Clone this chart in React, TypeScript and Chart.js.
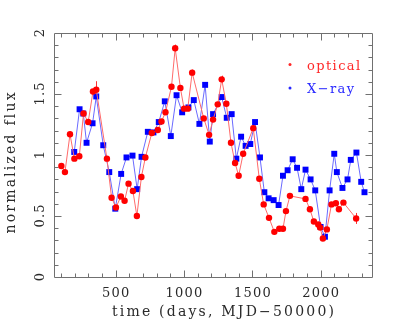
import React, { useEffect, useRef } from "react";
import { Chart, registerables } from "chart.js";
Chart.register(...registerables);

const optDays = [104, 130, 167, 199, 235, 266, 300, 335, 359, 437, 471, 503, 539, 566, 595, 627, 656, 689, 718, 765, 809, 836, 865, 909, 936, 974, 1001, 1028, 1060, 1145, 1184, 1213, 1247, 1276, 1310, 1344, 1374, 1400, 1433, 1507, 1551, 1583, 1622, 1661, 1697, 1724, 1746, 1775, 1889, 1921, 1950, 1982, 1996, 2016, 2045, 2079, 2111, 2133, 2166, 2259];
const optFlux = [0.91, 0.86, 1.17, 0.97, 0.99, 1.34, 1.27, 1.52, 1.535, 0.97, 0.65, 0.57, 0.66, 0.625, 0.765, 0.705, 0.5, 0.82, 0.98, 1.18, 1.205, 1.275, 1.35, 1.56, 1.875, 1.55, 1.38, 1.38, 1.675, 1.3, 1.165, 1.29, 1.415, 1.62, 1.42, 1.1, 0.935, 0.83, 1.01, 1.22, 0.805, 0.595, 0.485, 0.37, 0.395, 0.395, 0.54, 0.665, 0.64, 0.555, 0.455, 0.43, 0.405, 0.315, 0.39, 0.595, 0.605, 0.555, 0.61, 0.48];
const optErr = [0.02, 0.02, 0.02, 0.02, 0.02, 0.02, 0.02, 0.02, 0.07, 0.02, 0.02, 0.02, 0.02, 0.02, 0.02, 0.02, 0.02, 0.02, 0.02, 0.02, 0.02, 0.02, 0.02, 0.02, 0.03, 0.02, 0.02, 0.02, 0.025, 0.02, 0.02, 0.02, 0.02, 0.03, 0.02, 0.02, 0.02, 0.02, 0.02, 0.02, 0.02, 0.02, 0.02, 0.02, 0.02, 0.02, 0.02, 0.02, 0.02, 0.02, 0.02, 0.02, 0.02, 0.02, 0.02, 0.02, 0.02, 0.02, 0.02, 0.045];
const xrayDays = [198, 237, 264, 288, 332, 359, 410, 454, 498, 541, 580, 624, 658, 690, 736, 777, 816, 860, 904, 946, 987, 1033, 1072, 1113, 1155, 1189, 1213, 1276, 1313, 1349, 1383, 1418, 1451, 1485, 1520, 1556, 1588, 1619, 1656, 1692, 1724, 1758, 1795, 1827, 1858, 1889, 1926, 1960, 1999, 2031, 2065, 2099, 2118, 2159, 2196, 2220, 2261, 2296, 2320];
const xrayFlux = [1.025, 1.375, 1.34, 1.1, 1.26, 1.48, 1.08, 0.86, 0.56, 0.845, 0.98, 0.995, 0.72, 0.985, 1.19, 1.185, 1.27, 1.44, 1.155, 1.49, 1.35, 1.39, 1.45, 1.255, 1.575, 1.11, 1.335, 1.475, 1.305, 1.335, 0.97, 1.15, 1.075, 1.09, 1.27, 0.98, 0.695, 0.645, 0.63, 0.59, 0.83, 0.875, 0.965, 0.895, 0.72, 0.88, 0.8, 0.71, 0.41, 0.33, 0.71, 1.01, 0.86, 0.73, 0.8, 0.96, 1.02, 0.78, 0.695];
const xTickLabels = [500, 1000, 1500, 2000];
const yTickLabels = [0, 0.5, 1, 1.5, 2];
const seriesNames = ["optical", "X\u2212ray"];
const xTitle = "time (days, MJD\u221250000)";
const yTitle = "normalized flux";

const FONT = "DejaVu Serif";
const TEXT = "#2a2a2a";
const FRAME = "#707070";

function spacedText(ctx: any, text: string, x: number, y: number, spacing: number) {
  ctx.letterSpacing = `${spacing}px`;
  const w = ctx.measureText(text).width;
  ctx.textAlign = "left";
  ctx.fillText(text, x - (w - spacing) / 2, y);
  ctx.letterSpacing = "0px";
}

const framePlugin = {
  id: "frameTicks",
  beforeDatasetsDraw(chart: any) {
    const { ctx, chartArea: a, scales } = chart;
    const xs = scales.x, ys = scales.y;
    ctx.save();
    ctx.strokeStyle = FRAME;
    ctx.lineWidth = 1;
    const L = Math.round(a.left) + 0.5, R = Math.round(a.right) + 0.5;
    const T = Math.round(a.top) + 0.5, B = Math.round(a.bottom) + 0.5;
    ctx.beginPath();
    ctx.rect(L, T, R - L, B - T);
    ctx.stroke();
    ctx.beginPath();
    for (let v = 100; v <= xs.max; v += 100) {
      if (v < xs.min) continue;
      const px = Math.round(xs.getPixelForValue(v)) + 0.5;
      const len = v % 500 === 0 ? 7 : 4;
      ctx.moveTo(px, B); ctx.lineTo(px, B - len);
      ctx.moveTo(px, T); ctx.lineTo(px, T + len);
    }
    for (let i = 1; i < 20; i++) {
      const v = i / 10;
      const py = Math.round(ys.getPixelForValue(v)) + 0.5;
      const len = i % 5 === 0 ? 7 : 4;
      ctx.moveTo(L, py); ctx.lineTo(L + len, py);
      ctx.moveTo(R, py); ctx.lineTo(R - len, py);
    }
    ctx.stroke();

    // tick labels
    ctx.fillStyle = TEXT;
    ctx.font = `13px "${FONT}"`;
    ctx.textBaseline = "alphabetic";
    xTickLabels.forEach((v) => {
      spacedText(ctx, String(v), xs.getPixelForValue(v), a.bottom + 20, 1.2);
    });
    yTickLabels.forEach((v) => {
      ctx.save();
      ctx.translate(a.left - 10, ys.getPixelForValue(v));
      ctx.rotate(-Math.PI / 2);
      spacedText(ctx, String(v), 0, 0, 1.2);
      ctx.restore();
    });
    // axis titles
    ctx.font = `14px "${FONT}"`;
    spacedText(ctx, xTitle, (a.left + a.right) / 2 + 10, a.bottom + 39, 2.2);
    ctx.save();
    ctx.translate(15, (a.top + a.bottom) / 2 + 8);
    ctx.rotate(-Math.PI / 2);
    spacedText(ctx, yTitle, 0, 0, 2.2);
    ctx.restore();

    // error bars
    ctx.strokeStyle = "#ff3030";
    ctx.beginPath();
    optDays.forEach((d, i) => {
      const px = Math.round(xs.getPixelForValue(d)) + 0.5;
      ctx.moveTo(px, ys.getPixelForValue(optFlux[i] + optErr[i]));
      ctx.lineTo(px, ys.getPixelForValue(optFlux[i] - optErr[i]));
    });
    ctx.stroke();
    ctx.restore();
  },
  afterDraw(chart: any) {
    const { ctx, chartArea: a } = chart;
    ctx.save();
    ctx.font = `13px "${FONT}"`;
    ctx.textBaseline = "alphabetic";
    ctx.textAlign = "left";
    const cols = ["#ff2828", "#2828ff"];
    const dotY = [a.top + 31.5, a.top + 55];
    const baseY = [a.top + 37, a.top + 60];
    seriesNames.forEach((n, i) => {
      ctx.fillStyle = cols[i];
      ctx.beginPath();
      ctx.arc(a.right - 82, dotY[i], 1.5, 0, Math.PI * 2);
      ctx.fill();
      ctx.letterSpacing = "1.4px";
      ctx.fillText(n, a.right - 65, baseY[i]);
      ctx.letterSpacing = "0px";
    });
    ctx.restore();
  },
};

export default function App() {
  const ref = useRef<HTMLCanvasElement>(null);
  useEffect(() => {
    const chart = new Chart(ref.current!, {
      type: "scatter",
      data: {
        datasets: [
          {
            label: seriesNames[0],
            data: optDays.map((d, i) => ({ x: d, y: optFlux[i] })),
            showLine: true,
            borderColor: "#ff6a6a",
            borderWidth: 1,
            pointStyle: "circle",
            pointRadius: 3.2,
            pointBorderWidth: 0,
            pointBackgroundColor: "#ff0000",
          },
          {
            label: seriesNames[1],
            data: xrayDays.map((d, i) => ({ x: d, y: xrayFlux[i] })),
            showLine: true,
            borderColor: "#6a6aff",
            borderWidth: 1,
            pointStyle: "rect",
            pointRadius: 4.2,
            pointBorderWidth: 0,
            pointBackgroundColor: "#0000ff",
          },
        ],
      } as any,
      options: {
        responsive: false,
        animation: false,
        layout: { padding: { left: 0, right: 43, top: 33, bottom: 0 } },
        plugins: { legend: { display: false }, tooltip: { enabled: false } },
        scales: {
          x: {
            type: "linear",
            min: 50,
            max: 2375,
            grid: { display: false, drawTicks: false },
            border: { display: false },
            afterBuildTicks: (s: any) => { s.ticks = xTickLabels.map((v) => ({ value: v })); },
            afterFit: (s: any) => { s.height = 46; },
            ticks: { display: false },
          },
          y: {
            type: "linear",
            min: 0,
            max: 2,
            grid: { display: false, drawTicks: false },
            border: { display: false },
            afterBuildTicks: (s: any) => { s.ticks = yTickLabels.map((v) => ({ value: v })); },
            afterFit: (s: any) => { s.width = 54; },
            ticks: { display: false },
          },
        },
      } as any,
      plugins: [framePlugin],
    });
    return () => chart.destroy();
  }, []);
  return (
    <div style={{ position: "absolute", left: 0, top: 0, width: 415, height: 323, background: "#fff" }}>
      <canvas ref={ref} width={415} height={323} />
    </div>
  );
}
